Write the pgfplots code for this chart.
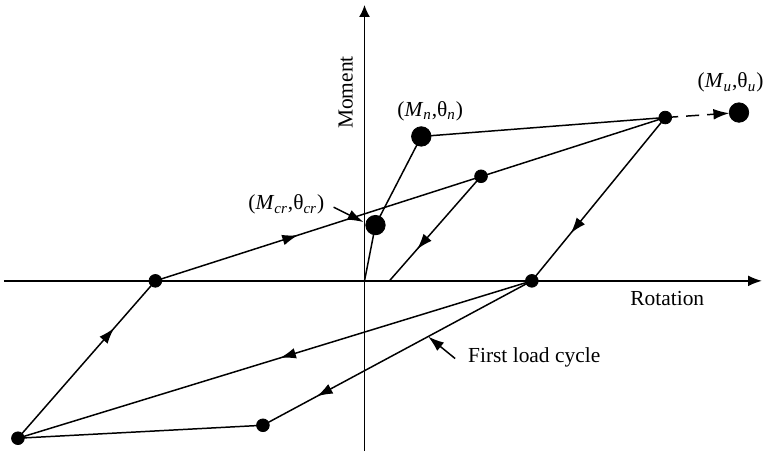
\documentclass[border=0pt]{standalone}
\usepackage{fontspec}
\setmainfont{Liberation Serif}
\usepackage{pgfplots}
\pgfplotsset{compat=1.18}
\usetikzlibrary{arrows.meta,decorations.markings}

\tikzset{
  midarrow/.style={postaction={decorate},
    decoration={markings, mark=at position #1 with {\arrow{Latex[length=8pt,width=5.4pt]}}}},
}

\begin{document}
\begin{tikzpicture}
\begin{axis}[
  scale only axis,
  width=385bp,
  height=228.5bp,
  xmin=-366, xmax=404,
  ymin=-175, ymax=282,
  hide axis,
  clip=false,
  font=\fontsize{10.8}{13}\selectfont,
]
% keep the whole frame as the picture
\path (rel axis cs:0,0) rectangle (rel axis cs:1,1);

% axes
\addplot[black, line width=0.75pt, -{Latex[length=7pt,width=5.5pt]}] coordinates {(-362,0) (399,0)};
\addplot[black, line width=0.75pt, -{Latex[length=6pt,width=5.5pt]}] coordinates {(0,-171) (0,277)};

% backbone curve
\addplot[black, line width=0.75pt] coordinates {(0,0) (11,56) (57,145) (302,164)};
\addplot[black, line width=0.75pt, dash pattern=on 6.5bp off 4bp, shorten >=4.9pt,
  -{Latex[length=8pt,width=5.4pt]}] coordinates {(302,164) (376,169)};

% hysteresis loops
\addplot[black, line width=0.75pt, midarrow=0.28] coordinates {(-210,0) (302,164)};
\addplot[black, line width=0.75pt, midarrow=0.70] coordinates {(117,105) (25,0)};
\addplot[black, line width=0.75pt, midarrow=0.71] coordinates {(302,164) (168,0)};
\addplot[black, line width=0.75pt, midarrow=0.49] coordinates {(168,0) (-348,-158)};
\addplot[black, line width=0.75pt, midarrow=0.80] coordinates {(168,0) (-102,-145)};
\addplot[black, line width=0.75pt] coordinates {(-102,-145) (-348,-158)};
\addplot[black, line width=0.75pt, midarrow=0.70] coordinates {(-348,-158) (-210,0)};

% points
\addplot[only marks, mark=*, mark size=4.9pt, black] coordinates {(11,56) (57,145) (376,169)};
\addplot[only marks, mark=*, mark size=3.2pt, black] coordinates {(302,164) (117,105) (168,0) (-210,0) (-348,-158) (-102,-145)};

% labels
\node[rotate=90, anchor=base] at (axis cs:-12,189) {Moment};
\node[anchor=base] at (axis cs:304,-25) {Rotation};
\node at (axis cs:66,170.5) {(\textit{M}\textsubscript{\textit{n}},θ\textsubscript{\textit{n}})};
\node at (axis cs:367.5,199) {(\textit{M}\textsubscript{\textit{u}},θ\textsubscript{\textit{u}})};
\node at (axis cs:-78.5,76.5) {(\textit{M}\textsubscript{\textit{cr}},θ\textsubscript{\textit{cr}})};
\draw[line width=0.75pt, -{Latex[length=8pt,width=5.4pt]}] (axis cs:-31,74) -- (axis cs:-1,59);
\node[anchor=base west] at (axis cs:97,-82) {First load cycle};
\draw[line width=0.75pt, -{Latex[length=8pt,width=5.4pt]}] (axis cs:91,-78) -- (axis cs:64,-56);
\end{axis}
\end{tikzpicture}
\end{document}
